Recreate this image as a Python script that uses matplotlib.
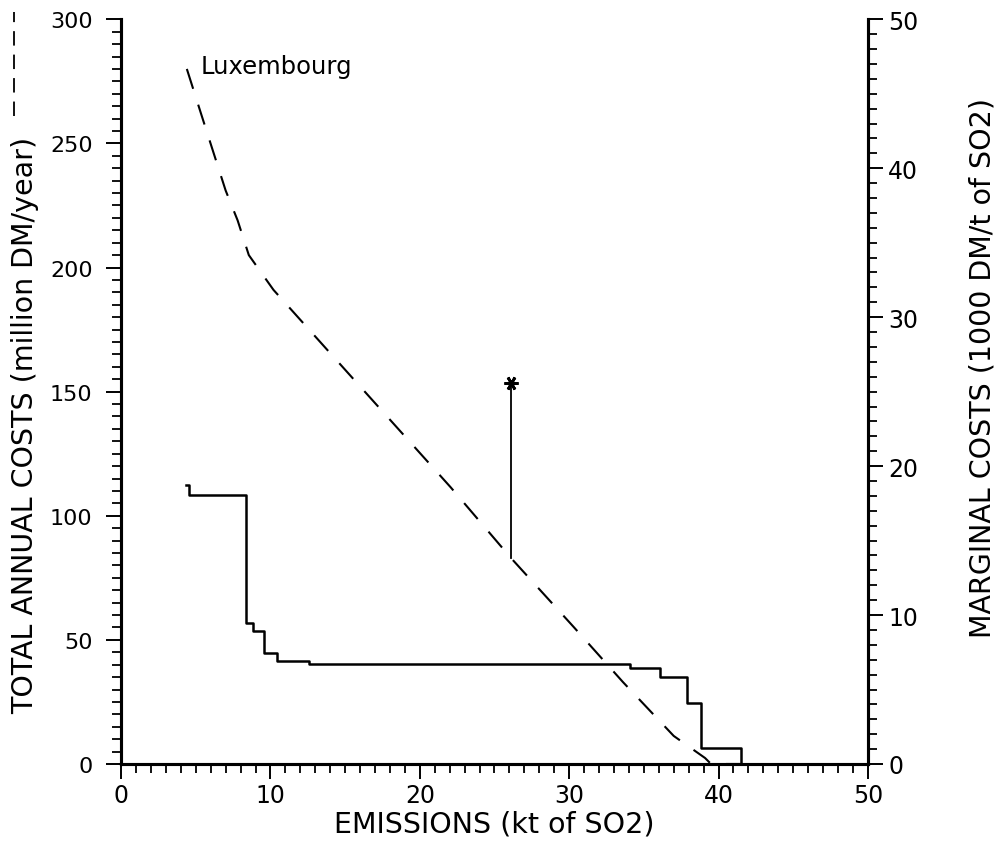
import numpy as np
import matplotlib.pyplot as plt
from matplotlib.ticker import MultipleLocator

# total annual costs (left axis, million DM/year) - dashed curve
tac_x = [4.4, 5.35, 6.2, 7.0, 7.8, 8.55, 10.2, 14.0, 18.0, 22.06, 26.1, 30.3, 33.6, 37.0, 39.1, 39.5, 41.5]
tac_y = [280, 262, 246, 231, 219, 205, 191, 165.5, 138.7, 111.5, 83, 55.2, 33, 11.3, 2.4, 0, 0]

# marginal costs (right axis, 1000 DM/t of SO2) - step curve
mc_x = [4.35, 4.55, 8.36, 8.8, 9.58, 10.47, 12.57, 34.1, 36.05, 37.9, 38.8, 41.5]
mc_y = [18.7, 18.07, 9.46, 8.95, 7.45, 6.93, 6.74, 6.44, 5.82, 4.07, 1.07, 0]

# current point marker
cur_x = 26.1
cur_lo = 83 / 6.0
cur_hi = 25.6

plt.rcParams['font.family'] = ['DejaVu Sans']
fig = plt.figure(figsize=(10.01, 8.45), dpi=100)
ax = fig.add_axes([0.121, 0.0947, 0.746, 0.8813])
ax2 = ax.twinx()

ax.plot(tac_x, tac_y, color='black', lw=1.5, dashes=(10, 8))
ax2.plot(mc_x, mc_y, color='black', lw=1.8, drawstyle='steps-post')
ax2.plot([cur_x, cur_x], [cur_lo, cur_hi], color='black', lw=1.3)
ax2.plot([cur_x], [cur_hi], marker=(6, 2, 90), ms=10, mew=2, color='black')

ax.text(5.35, 281, 'Luxembourg', fontsize=17.5, va='center', ha='left')

ax.set_xlim(0, 50)
ax.set_ylim(0, 300)
ax2.set_ylim(0, 50)

ax.xaxis.set_major_locator(MultipleLocator(10))
ax.xaxis.set_minor_locator(MultipleLocator(1))
ax.yaxis.set_major_locator(MultipleLocator(50))
ax.yaxis.set_minor_locator(MultipleLocator(5))
ax2.yaxis.set_major_locator(MultipleLocator(10))
ax2.yaxis.set_minor_locator(MultipleLocator(1))

for a in (ax, ax2):
    a.spines['top'].set_visible(False)
    for s in a.spines.values():
        s.set_linewidth(2.2)
    a.tick_params(which='major', length=10.5, width=1.4, labelsize=17, direction='out')
    a.tick_params(which='minor', length=6.5, width=1.3, direction='out')
ax.tick_params(axis='x', which='major', pad=3)
ax.tick_params(axis='y', which='major', pad=10, labelsize=16)
ax2.tick_params(axis='y', which='major', pad=4)

fig.text(25 / 1001, 1 - 425 / 845, 'TOTAL ANNUAL COSTS (million DM/year)', rotation=90,
         ha='center', va='center', fontsize=20.5)
fig.add_artist(plt.Line2D([14 / 1001, 14 / 1001], [1 - 117 / 845, 1 - 13 / 845],
                          transform=fig.transFigure, color='black', lw=1.3, dashes=(8, 5)))
fig.text(0.494, 1 - 825 / 845, 'EMISSIONS (kt of SO2)', ha='center', va='center', fontsize=20.5)
fig.text(982 / 1001, 1 - 368 / 845, 'MARGINAL COSTS (1000 DM/t of SO2)', rotation=90,
         ha='center', va='center', fontsize=20.5)

fig.savefig('out.png', dpi=100)
